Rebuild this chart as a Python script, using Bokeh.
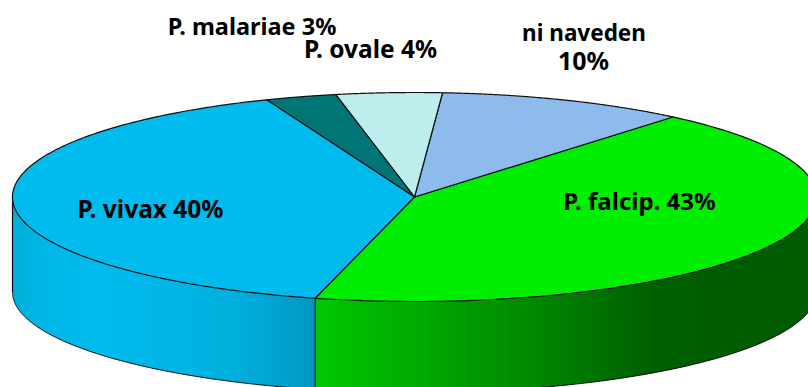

import numpy as np
from bokeh.embed import file_html
from bokeh.resources import INLINE
from bokeh.plotting import figure
from bokeh.models import ColumnDataSource, Range1d
from bokeh.core.properties import value

categories = ["P. falcip.", "ni naveden", "P. ovale", "P. malariae", "P. vivax"]
percents = [42.86, 10.0, 4.25, 2.86, 40.03]
top_colors = ["#00EE00", "#8CBBEC", "#BDEDED", "#007575", "#00BBEE"]

label_lines = ["P. falcip. 43%", "ni naveden", "10%", "P. ovale 4%", "P. malariae 3%", "P. vivax 40%"]
label_x = [639, 583.5, 583, 370, 251.5, 150]
label_y = [200, 32, 59, 48, 25, 208]
label_size = ["24px", "22.5px", "25px", "24.5px", "23.5px", "24.5px"]

W, H = 808, 387
cx, cy, rx, ry, depth, bottom_ry = 414.0, 196.5, 402.0, 104.5, 95.0, 100.5
start_deg = -104.3

wall_stops = {
    "P. vivax": ([12, 50, 100, 230, 315], ["#00AEDA", "#00B8E8", "#00BBEE", "#00B0DE", "#0098C2"]),
    "P. falcip.": ([315, 450, 560, 640, 808], ["#00C800", "#00A000", "#008000", "#006200", "#005A00"]),
}

def rgb(h):
    return [int(h[i:i + 2], 16) for i in (1, 3, 5)]

def wall_color(name, x):
    xs, cols = wall_stops[name]
    c = [np.interp(x, xs, [rgb(k)[i] for k in cols]) for i in range(3)]
    return "#%02x%02x%02x" % tuple(int(round(v)) for v in c)

def ex(t):
    return cx + rx * np.cos(np.radians(t))

def ey(t):
    return cy - ry * np.sin(np.radians(t))

def arc(x):
    return np.sqrt(np.clip(1 - ((x - cx) / rx) ** 2, 0, 1))

def front_y(x):
    return cy + ry * arc(x)

def bottom_y(x):
    return cy + depth + bottom_ry * arc(x)

p = figure(width=W, height=H, x_range=Range1d(0, W), y_range=Range1d(H, 0),
           toolbar_location=None, output_backend="svg", min_border=0,
           background_fill_color=None, border_fill_color=None,
           outline_line_color=None)
p.axis.visible = False
p.grid.visible = False

edges = start_deg + np.cumsum([0] + percents) * 3.6
split = ex(edges[0])

# side wall, painted left to right in overlapping strips so no seams show
sx, sy, sc = [], [], []
for x0 in np.arange(cx - rx, min(cx + rx, W + 1), 1.0):
    x1 = x0 + 2.0
    name = "P. vivax" if x0 + 0.5 < split else "P. falcip."
    if name == "P. vivax":
        x1 = min(x1, split)
    xs = np.linspace(x0, x1, 3)
    sx.append(np.r_[xs, xs[::-1]])
    sy.append(np.r_[front_y(xs), bottom_y(xs)[::-1]])
    sc.append(wall_color(name, x0 + 0.5))
p.patches(sx, sy, fill_color=sc, line_color=None)

# wall outlines
xb = cx + rx * np.cos(np.radians(np.linspace(180, 360, 500)))
p.line(xb, bottom_y(xb), line_color="#101010", line_width=1)
for x0 in (cx - rx, split):
    p.line([x0, x0], [front_y(x0), bottom_y(x0)], line_color="#101010", line_width=1.2)

# top slices
for i, c in enumerate(categories):
    ts = np.linspace(edges[i], edges[i + 1], 200)
    xs = np.r_[cx, ex(ts)]
    ys = np.r_[cy, ey(ts)]
    p.patch(xs, ys, fill_color=top_colors[i], line_color="#101010", line_width=1.2)

labels = ColumnDataSource(dict(x=label_x, y=label_y, text=label_lines, size=label_size))
p.text("x", "y", text="text", source=labels, text_font=value("Noto Sans"), text_font_style="bold",
       text_font_size="size", text_align="center", text_baseline="middle", text_color="#000000")

open("out.html", "w").write(file_html(p, INLINE))
